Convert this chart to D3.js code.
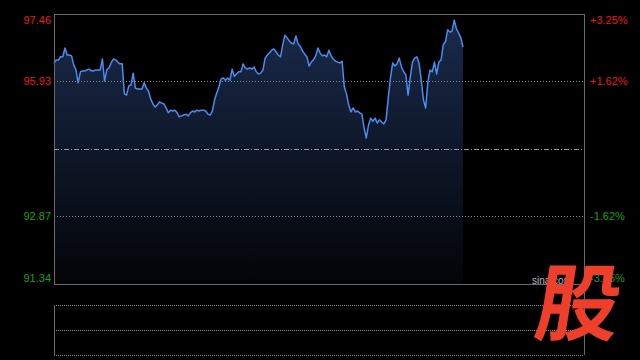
<!DOCTYPE html>
<html>
<head>
<meta charset="utf-8">
<script src="https://cdn.jsdelivr.net/npm/d3@7"></script>
<style>
  html, body { margin: 0; padding: 0; background: #000; }
  svg { display: block; }
</style>
</head>
<body>
<script>
// prezzi minuto per minuto
var prices = [
  96.35, 96.42, 96.42, 96.49, 96.49, 96.69, 96.53, 96.53, 96.51, 96.30,
  96.19, 95.90, 96.15, 96.17, 96.17, 96.19, 96.21, 96.17, 96.17, 96.19,
  96.19, 96.19, 96.44, 95.94, 96.19, 96.24, 96.35, 96.44, 96.42, 96.37,
  96.33, 96.33, 95.65, 95.62, 95.83, 95.85, 96.12, 95.78, 95.76, 95.76,
  95.76, 95.90, 95.78, 95.71, 95.53, 95.42, 95.35, 95.40, 95.47, 95.44,
  95.42, 95.33, 95.22, 95.28, 95.26, 95.28, 95.22, 95.13, 95.15, 95.17,
  95.19, 95.15, 95.22, 95.26, 95.24, 95.28, 95.26, 95.28, 95.28, 95.26,
  95.19, 95.17, 95.26, 95.51, 95.67, 95.81, 95.99, 96.01, 95.96, 96.01,
  95.96, 96.21, 96.05, 96.10, 96.15, 96.15, 96.33, 96.24, 96.21, 96.24,
  96.21, 96.26, 96.15, 96.10, 96.12, 96.19, 96.46, 96.53, 96.58, 96.64,
  96.67, 96.60, 96.53, 96.49, 96.76, 96.98, 96.92, 96.85, 96.80, 96.78,
  96.96, 96.78, 96.73, 96.62, 96.55, 96.49, 96.28, 96.37, 96.42, 96.51,
  96.69, 96.58, 96.51, 96.53, 96.49, 96.64, 96.51, 96.44, 96.39, 96.37,
  96.35, 96.39, 95.81, 95.65, 95.40, 95.24, 95.33, 95.24, 95.26, 95.22,
  95.19, 94.88, 94.65, 94.94, 95.10, 95.03, 95.10, 94.99, 95.06, 95.01,
  94.97, 95.06, 95.56, 96.01, 96.35, 96.28, 96.33, 96.46, 96.26, 96.15,
  96.08, 95.62, 96.03, 96.37, 96.46, 96.49, 96.35, 95.96, 95.51, 95.33,
  95.92, 96.19, 96.15, 96.37, 96.10, 96.37, 96.42, 96.76, 96.83, 97.10,
  97.05, 97.07, 97.32, 97.12, 97.03, 96.92, 96.71
];
var totalMinutes = 241;      // 9:30-11:30 + 13:00-15:00
var prevClose = 94.40;
var priceTicks = [97.46, 95.93, 92.87, 91.34];
var priceLabels = ["97.46", "95.93", "92.87", "91.34"];
var pctLabels = ["+3.25%", "+1.62%", "-1.62%", "-3.25%"];

var W = 640, H = 360;
var pLeft = 54, pRight = 584, pTop = 14, pBottom = 284;
var volTop = 305, volBottom = 355;

var svg = d3.select("body").append("svg")
  .attr("width", W)
  .attr("height", H);

svg.append("rect").attr("width", W).attr("height", H).attr("fill", "#000");

var x = d3.scaleLinear().domain([0, totalMinutes]).range([pLeft, pRight]);
var y = d3.scaleLinear().domain([91.34, 97.46]).range([pBottom, pTop]);

// gradiente dell'area
var grad = svg.append("defs").append("linearGradient")
  .attr("id", "areaGrad")
  .attr("gradientUnits", "userSpaceOnUse")
  .attr("x1", 0).attr("y1", pTop).attr("x2", 0).attr("y2", pBottom);
grad.append("stop").attr("offset", "0%").attr("stop-color", "#1a2b4c");
grad.append("stop").attr("offset", "100%").attr("stop-color", "#030407");

// area e linea
var area = d3.area()
  .x(function (d, i) { return x(i); })
  .y0(pBottom)
  .y1(function (d) { return y(d); });
var line = d3.line()
  .x(function (d, i) { return x(i); })
  .y(function (d) { return y(d); });

svg.append("path").datum(prices)
  .attr("d", area)
  .attr("fill", "url(#areaGrad)");

// griglia tratteggiata
[priceTicks[1], priceTicks[2]].forEach(function (v) {
  svg.append("line")
    .attr("x1", pLeft).attr("x2", pRight)
    .attr("y1", Math.round(y(v)) + 0.5).attr("y2", Math.round(y(v)) + 0.5)
    .attr("stroke", "#8a8a8a").attr("stroke-width", 1)
    .attr("stroke-dasharray", "1,2");
});
// linea del prezzo di chiusura precedente
svg.append("line")
  .attr("x1", pLeft).attr("x2", pRight)
  .attr("y1", Math.round(y(prevClose)) + 0.5).attr("y2", Math.round(y(prevClose)) + 0.5)
  .attr("stroke", "#9a9a9a").attr("stroke-width", 1)
  .attr("stroke-dasharray", "5,2,1,2");

svg.append("path").datum(prices)
  .attr("d", line)
  .attr("fill", "none")
  .attr("stroke", "#4a8cf2")
  .attr("stroke-width", 1.5)
  .attr("stroke-linejoin", "round");

// cornice del pannello principale
svg.append("rect")
  .attr("x", pLeft + 0.5).attr("y", pTop + 0.5)
  .attr("width", pRight - pLeft).attr("height", pBottom - pTop)
  .attr("fill", "none").attr("stroke", "#6a6a6a").attr("stroke-width", 1);

// pannello volumi (vuoto)
[volTop, (volTop + volBottom) / 2, volBottom].forEach(function (vy) {
  svg.append("line")
    .attr("x1", pLeft).attr("x2", pRight)
    .attr("y1", Math.round(vy) + 0.5).attr("y2", Math.round(vy) + 0.5)
    .attr("stroke", "#8a8a8a").attr("stroke-width", 1)
    .attr("stroke-dasharray", "1,1");
});
svg.append("line")
  .attr("x1", pLeft + 0.5).attr("x2", pLeft + 0.5)
  .attr("y1", volTop).attr("y2", volBottom)
  .attr("stroke", "#6a6a6a");
svg.append("line")
  .attr("x1", pRight + 0.5).attr("x2", pRight + 0.5)
  .attr("y1", pBottom).attr("y2", volBottom)
  .attr("stroke", "#6a6a6a");

// etichette
function labelY(v) {
  return Math.max(pTop + 6, Math.min(pBottom - 6, y(v)));
}
function labelColor(v) {
  return v > prevClose ? "#e8191b" : "#15a015";
}
svg.selectAll(".lp").data(priceTicks).enter().append("text")
  .attr("x", pLeft - 3)
  .attr("y", function (d) { return labelY(d); })
  .attr("dy", "0.36em")
  .attr("text-anchor", "end")
  .attr("font-family", "Liberation Sans, Arial, sans-serif")
  .attr("font-size", 11)
  .attr("fill", labelColor)
  .text(function (d, i) { return priceLabels[i]; });

svg.selectAll(".rp").data(priceTicks).enter().append("text")
  .attr("x", pRight + 6)
  .attr("y", function (d) { return labelY(d); })
  .attr("dy", "0.36em")
  .attr("text-anchor", "start")
  .attr("font-family", "Liberation Sans, Arial, sans-serif")
  .attr("font-size", 11)
  .attr("fill", labelColor)
  .text(function (d, i) { return pctLabels[i]; });

// marchio
svg.append("text")
  .attr("x", 532).attr("y", 284)
  .attr("font-family", "Liberation Sans, Arial, sans-serif")
  .attr("font-size", 10)
  .attr("fill", "#bbbbbb")
  .text("sina.com");
svg.append("text")
  .attr("transform", "translate(574,334) skewX(-9)")
  .attr("text-anchor", "middle")
  .attr("font-family", "Noto Sans CJK SC, sans-serif")
  .attr("font-weight", "bold")
  .attr("font-size", 84)
  .attr("fill", "#ee3f2b")
  .text("股");
</script>
</body>
</html>
